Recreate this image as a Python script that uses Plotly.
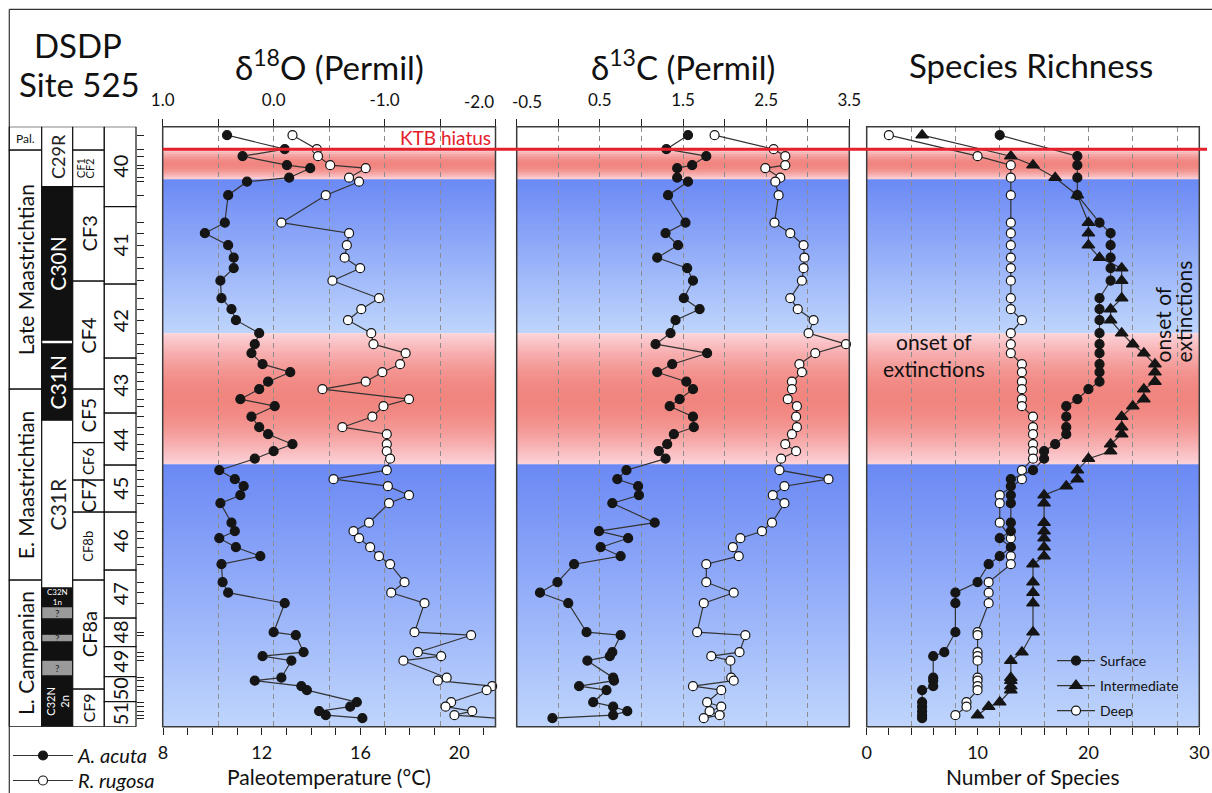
import math
import plotly.graph_objects as go

W, H = 1212, 793

# ---------------- data ----------------
# sample depth (relative units, 0 = top of section shown, 120 = base)
depth = [1.7, 4.5, 5.9, 7.7, 8.3, 10.2, 11.0, 13.7, 19.2, 21.3, 23.7, 26.2, 28.3, 30.8, 34.3,
         36.5, 38.7, 41.3, 43.5, 45.3, 47.5, 49.1, 51.0, 52.5, 54.5, 55.9, 58.0, 60.1, 61.5, 63.5,
         64.9, 66.4, 68.7, 70.5, 71.9, 73.7, 75.3, 79.2, 80.9, 82.3, 84.1, 85.9, 87.5, 91.1, 93.2,
         95.3, 101.1, 101.7, 105.1, 105.9, 106.8, 110.2, 110.8, 111.9, 112.7, 115.1, 116.0, 116.9, 117.7, 118.3]

d18o_acuta = [0.42, -0.10, 0.28, -0.12, -0.33, -0.14, 0.24, 0.41, 0.44, 0.62, 0.41, 0.36, 0.36, 0.48, 0.47,
              0.38, 0.34, 0.13, 0.17, 0.20, 0.10, -0.15, 0.05, 0.13, 0.30, -0.01, 0.20, 0.13, 0.05, -0.17,
              0.00, 0.17, 0.49, 0.35, 0.27, 0.30, 0.48, 0.38, 0.35, 0.49, 0.34, 0.12, 0.47, 0.46, 0.41,
              -0.10, 0.00, -0.20, -0.27, 0.10, -0.16, -0.07, 0.17, -0.25, -0.30, -0.75, -0.69, -0.41, -0.47, -0.80]
d18o_rugosa = [-0.17, -0.39, -0.40, -0.51, -0.83, -0.68, -0.77, -0.47, -0.07, -0.68, -0.66, -0.64, -0.78, -0.53, -0.95,
               -0.79, -0.67, -0.88, -0.90, -1.19, -1.14, -0.98, -0.83, -0.44, -1.22, -0.99, -0.89, -0.62, -1.02, -1.02,
               -1.02, -1.05, -1.02, -0.54, -1.03, -1.22, -1.04, -0.86, -0.72, -0.77, -0.87, -0.95, -1.05, -1.18, -1.06,
               -1.36, -1.27, -1.78, -1.30, -1.51, -1.17, -1.56, -1.48, -1.97, -1.92, -1.60, -1.55, -1.79, -1.63, -2.01]
d13c_acuta = [1.56, 1.30, 1.78, 1.61, 1.43, 1.43, 1.56, 1.32, 1.53, 1.29, 1.44, 1.19, 1.55, 1.62, 1.51,
              1.70, 1.41, 1.35, 1.17, 1.79, 1.37, 1.19, 1.54, 1.62, 1.46, 1.34, 1.62, 1.63, 1.39, 1.31,
              1.21, 1.29, 0.82, 0.71, 0.96, 0.97, 0.65, 1.16, 0.49, 0.84, 0.51, 0.75, 0.19, -0.01, -0.22,
              0.12, 0.34, 0.75, 0.65, 0.62, 0.35, 0.66, 0.67, 0.25, 0.58, 0.42, 0.66, 0.83, 0.66, -0.07]
d13c_rugosa = [1.88, 2.59, 2.73, 2.73, 2.49, 2.67, 2.61, 2.65, 2.60, 2.79, 2.95, 2.96, 2.95, 2.93, 2.79,
               2.88, 3.07, 3.01, 3.46, 3.09, 2.90, 2.93, 2.81, 2.81, 2.76, 2.87, 2.86, 2.87, 2.81, 2.73,
               2.86, 2.68, 2.66, 3.25, 2.72, 2.58, 2.72, 2.57, 2.45, 2.19, 2.10, 2.17, 1.78, 1.78, 2.11,
               1.75, 1.67, 2.25, 2.18, 1.84, 2.07, 2.08, 2.11, 1.62, 1.96, 1.79, 1.96, 1.82, 1.94, 1.75]

N = None
sr_surface = [12, N, 19, 19, N, 19, N, 19, 21, 22, 22, 22, 22, 22, 21,
              21, 21, 21, 21, 21, 21, 21, 21, 20, 19, 18, 18, 18, 18, 17,
              16, 16, 15, 13, 13, 13, 13, 13, 13, 12, 13, 12, 11, 10, 8,
              8, 8, N, 7, 6, N, 6, 6, 6, 5, 5, 5, 5, 5, 5]
sr_intermediate = [5, N, 13, 15, N, 17, N, 19, 20, 20, 20, 21, 23, 23, 23,
                   22, 22, 23, 24, 25, 26, 26, 26, 25, 25, 24, 23, 23, 23, 22,
                   22, 20, 19, 19, 18, 16, 16, 16, 16, 16, 16, 16, 15, 15, 15,
                   15, 15, N, 14, N, 13, 13, 13, 13, 13, 12, 11, N, 10, N]
sr_deep = [2, N, 10, 13, N, 13, N, 13, 13, 13, 13, 13, 13, 13, 13,
           13, 14, 13, 13, 13, 14, 14, 14, 14, 14, 14, 15, 15, 15, 15,
           15, 15, 14, 14, N, 12, 12, 12, N, 13, N, 13, 13, 11, 11,
           11, 10, 10, 10, 10, 10, 10, 10, 10, 10, 9, 9, N, 8, N]

ktb_depth = 4.5
bands = [(4.5, 10.5, "red"), (10.5, 41.3, "blue"), (41.3, 67.5, "red"), (67.5, 120.0, "blue")]

stage_cells = [(0, 4.7, "Pal."), (4.7, 52.5, "Late Maastrichtian"),
               (52.5, 90.7, "E. Maastrichtian"), (90.7, 120, "L. Campanian")]
chron_cells = [(0, 12.0, "C29R", "w"), (12.0, 42.7, "C30N", "k"), (42.7, 43.5, "", "w"),
               (43.5, 58.7, "C31N", "k"), (58.7, 92.3, "C31R", "w"), (92.3, 96.0, "C32N<br>1n", "k"),
               (96.0, 98.5, "?", "g"), (98.5, 101.5, "", "k"), (101.5, 103.1, "?", "g"),
               (103.1, 106.7, "", "k"), (106.7, 109.9, "?", "g"), (109.9, 120, "C32N<br>2n", "k")]
zone_cells = [(0, 4.7, ""), (4.7, 12.0, "CF1|CF2"), (12.0, 30.9, "CF3"), (30.9, 52.5, "CF4"),
              (52.5, 63.2, "CF5"), (63.2, 70.7, "CF6"), (70.7, 77.1, "CF7"), (77.1, 90.7, "CF8b"),
              (90.7, 112.5, "CF8a"), (112.5, 120, "CF9")]
core_cells = [(0, 16.0, "40"), (16.0, 31.5, "41"), (31.5, 46.3, "42"), (46.3, 57.3, "43"),
              (57.3, 67.7, "44"), (67.7, 77.1, "45"), (77.1, 88.7, "46"), (88.7, 98.3, "47"),
              (98.3, 104.0, "48"), (104.0, 110.0, "49"), (110.0, 115.0, "50"), (115.0, 120, "51")]

# tick values: labelled (major) and unlabelled (minor) positions
d18o_major = [1.0, 0.0, -1.0]
d18o_major_text = ["1.0", "0.0", "-1.0"]
d18o_minor = [0.5, -0.5, -1.5, -2.0]          # "-2.0" label is set beside its tick
d13c_major = [0.5, 1.5, 2.5, 3.5]
d13c_major_text = ["0.5", "1.5", "2.5", "3.5"]
d13c_minor = [-0.5, 0.0, 1.0, 2.0, 3.0]        # "-0.5" label is set beside its tick
temp_major = [8, 12, 16, 20]
temp_minor = [t for t in range(8, 22) if t not in temp_major]
species_major = [0, 10, 20, 30]
species_minor = [s for s in range(0, 31, 2) if s not in species_major]
species_grid = list(range(0, 31, 4))

# ---------------- helpers ----------------
FONT = "Lato, 'Open Sans', sans-serif"


def px(x):
    return x / W


def py(y):
    return 1 - y / H


P1 = (162.7, 495.5)
P2 = (516.7, 849.3)
P3 = (866.7, 1199.3)
TOP, BOT = 126.7, 726.7

BLUE_DARK = (107, 137, 245)
BLUE_LIGHT = (191, 213, 252)
RED_DARK = (241, 133, 127)
RED_LIGHT = (252, 212, 218)


def mix(c0, c1, t):
    return "rgb(%d,%d,%d)" % tuple(round(a + (b - a) * t) for a, b in zip(c0, c1))


shapes = []
annotations = []

# gradient backgrounds (each strip overlaps the next a little to avoid seams)
axis_ranges = {"x": (1.0, -2.0), "x2": (-0.5, 3.5), "x3": (0, 30)}
for d0, d1, kind in bands:
    n = max(2, int(round((d1 - d0) / 0.5)))
    for i in range(n):
        a = d0 + i * (d1 - d0) / n
        b = d0 + (i + 1) * (d1 - d0) / n
        f = (i + 0.5) / n
        if kind == "blue":
            col = mix(BLUE_DARK, BLUE_LIGHT, f)
        else:
            col = mix(RED_LIGHT, RED_DARK, math.sin(math.pi * f))
        for ax, (r0, r1) in axis_ranges.items():
            shapes.append(dict(type="rect", xref=ax, yref="y", x0=r0, x1=r1,
                               y0=a, y1=min(b + 0.45, d1), fillcolor=col,
                               line=dict(width=0), layer="below"))

# panel borders
for ax in ["x", "x2", "x3"]:
    shapes.append(dict(type="rect", xref=f"{ax} domain", yref="y domain", x0=0, x1=1, y0=0, y1=1,
                       line=dict(color="#3c3c3c", width=1.5), fillcolor="rgba(0,0,0,0)", layer="above"))

# KTB hiatus line
shapes.append(dict(type="line", xref="paper", yref="y", x0=px(162.7), x1=px(1207),
                   y0=ktb_depth, y1=ktb_depth, line=dict(color="#e4202a", width=3), layer="above"))

# figure frame (top & left)
shapes.append(dict(type="line", xref="paper", yref="paper", x0=px(9.3), x1=1, y0=py(9.3), y1=py(9.3),
                   line=dict(color="#333", width=1.2)))
shapes.append(dict(type="line", xref="paper", yref="paper", x0=px(9.3), x1=px(9.3), y0=0, y1=py(9.3),
                   line=dict(color="#333", width=1.2)))

# stratigraphic columns
COLS = {"stage": (9.3, 41.7), "chron": (41.7, 72.7), "zone": (72.7, 104.3), "core": (104.3, 136.0)}
FILL = {"w": "white", "k": "#111111", "g": "#9a9a9a"}


def cell(col, d0, d1, fill="white"):
    x0, x1 = COLS[col]
    shapes.append(dict(type="rect", xref="paper", yref="y", x0=px(x0), x1=px(x1), y0=d0, y1=d1,
                       fillcolor=fill, line=dict(color="#111", width=1.2), layer="above"))


def label(xc, d, text, size, color="#111", angle=-90):
    annotations.append(dict(xref="paper", yref="y", x=px(xc), y=d, text=text, showarrow=False,
                            textangle=angle, xanchor="center", yanchor="middle",
                            font=dict(size=size, color=color, family=FONT)))


stage_x = sum(COLS["stage"]) / 2
for d0, d1, t in stage_cells:
    cell("stage", d0, d1)
    if t == "Pal.":
        label(stage_x, (d0 + d1) / 2, t, 12, angle=0)
    else:
        label(stage_x, (d0 + d1) / 2, t, 21)

chron_x = sum(COLS["chron"]) / 2
for d0, d1, t, f in chron_cells:
    cell("chron", d0, d1, FILL[f])
    if not t:
        continue
    tc = "white" if f == "k" else "#222"
    if t == "?":
        label(chron_x, (d0 + d1) / 2, t, 10, tc, angle=0)
    elif t == "C32N<br>1n":
        label(chron_x, (d0 + d1) / 2, t, 8, tc, angle=0)
    elif t == "C32N<br>2n":
        label(chron_x, (d0 + d1) / 2, t, 11, tc)
    elif t == "C29R":
        label(chron_x, (d0 + d1) / 2, t, 18, tc)
    else:
        label(chron_x, (d0 + d1) / 2, t, 21, tc)

zone_x = sum(COLS["zone"]) / 2
zone_size = {"CF3": 20, "CF4": 20, "CF5": 19, "CF6": 15, "CF7": 19, "CF8b": 13, "CF8a": 20, "CF9": 16}
for d0, d1, t in zone_cells:
    cell("zone", d0, d1)
    if t == "CF1|CF2":
        label(zone_x - 8, (d0 + d1) / 2, "CF1", 11)
        label(zone_x + 0.5, (d0 + d1) / 2, "CF2", 11)
    elif t:
        label(zone_x, (d0 + d1) / 2, t, zone_size[t])

core_x = sum(COLS["core"]) / 2
for d0, d1, t in core_cells:
    cell("core", d0, d1)
    label(core_x, (d0 + d1) / 2, t, 20)

# ---------------- traces ----------------
LINE = dict(color="#333333", width=1.2)
INK = "#151515"
fig = go.Figure()


def iso(x, name, filled, xaxis, showlegend, legend):
    fig.add_trace(go.Scatter(
        x=x, y=depth, xaxis=xaxis, yaxis="y", mode="lines+markers", name=name,
        line=LINE, legend=legend, showlegend=showlegend, hoverinfo="skip", cliponaxis=False,
        marker=dict(symbol="circle", size=9, color=INK if filled else "white",
                    line=dict(color=INK, width=1.2))))


iso(d18o_rugosa, "<i>R. rugosa</i>", False, "x", True, "legend3")
iso(d18o_acuta, "<i>A. acuta</i>", True, "x", True, "legend")
iso(d13c_rugosa, "<i>R. rugosa</i>", False, "x2", False, "legend3")
iso(d13c_acuta, "<i>A. acuta</i>", True, "x2", False, "legend")


def sr(x, name, symbol, color, size, legend):
    fig.add_trace(go.Scatter(
        x=x, y=depth, xaxis="x3", yaxis="y", mode="lines+markers", name=name, connectgaps=True,
        line=LINE, legend=legend, hoverinfo="skip", cliponaxis=False,
        marker=dict(symbol=symbol, size=size, color=color, line=dict(color=INK, width=1.2))))


sr(sr_deep, "Deep", "circle", "white", 9, "legend5")
sr(sr_intermediate, "Intermediate", "triangle-up", INK, 11, "legend4")
sr(sr_surface, "Surface", "circle", INK, 9, "legend2")

# empty helper traces so the bottom (overlay) axes exist
fig.add_trace(go.Scatter(x=[], y=[], xaxis="x4", yaxis="y", showlegend=False, hoverinfo="skip"))
fig.add_trace(go.Scatter(x=[], y=[], xaxis="x5", yaxis="y", showlegend=False, hoverinfo="skip"))


# ---------------- text ----------------
def text(x, y, t, size, color="#111", angle=0, xanchor="center", yanchor="middle", pad=1):
    annotations.append(dict(xref="paper", yref="paper", x=px(x), y=py(y), text=t, showarrow=False,
                            textangle=angle, xanchor=xanchor, yanchor=yanchor, borderpad=pad,
                            font=dict(size=size, color=color, family=FONT)))


text(78, 67, "DSDP", 33, yanchor="bottom")
text(79, 62, "Site 525", 33, yanchor="top")
text(329, 65, "δ<sup>18</sup>O (Permil)", 33)
text(683, 65, "δ<sup>13</sup>C (Permil)", 33)
text(1031, 65, "Species Richness", 33)
text(495.5, 102, "-2.0", 17, xanchor="right")
text(510, 102, "-0.5", 17, xanchor="left")
text(493, 137.5, "KTB hiatus", 19, "#e4202a", xanchor="right")
text(934, 355, "onset of", 21, yanchor="bottom", pad=0)
text(934, 355, "extinctions", 21, yanchor="top", pad=0)
text(1175, 364, "onset of", 21, angle=-90, xanchor="right", yanchor="bottom", pad=0)
text(1169, 364, "extinctions", 21, angle=-90, xanchor="left", yanchor="bottom", pad=0)
text(329, 776, "Paleotemperature (°C)", 21)
text(1033, 776, "Number of Species", 21)

# ---------------- layout ----------------
TICK = dict(ticks="outside", ticklen=7, tickwidth=1, tickcolor="#222")
GRID = dict(showgrid=True, gridcolor="#8c8c8c", gridwidth=1, griddash="5px,4px")
BASE = dict(zeroline=False, showline=False, tickmode="array", anchor="y")


def legend_at(x, y_top, size, iw):
    return dict(x=px(x), y=py(y_top), xanchor="left", yanchor="top", bgcolor="rgba(0,0,0,0)",
                font=dict(size=size, family=FONT, color="#111"), itemwidth=iw)


fig.update_layout(
    width=W, height=H, margin=dict(l=0, r=0, t=0, b=0, pad=0, autoexpand=False),
    paper_bgcolor="white", plot_bgcolor="rgba(0,0,0,0)",
    font=dict(family=FONT, color="#111"),
    shapes=shapes, annotations=annotations,
    xaxis=dict(domain=[px(P1[0]), px(P1[1])], range=[1.0, -2.0], side="top",
               tickvals=d18o_major, ticktext=d18o_major_text, tickfont=dict(size=17),
               ticklabelstandoff=6, **BASE, **TICK, **GRID,
               minor=dict(tickmode="array", tickvals=d18o_minor, **TICK, **GRID)),
    xaxis2=dict(domain=[px(P2[0]), px(P2[1])], range=[-0.5, 3.5], side="top",
                tickvals=d13c_major, ticktext=d13c_major_text, tickfont=dict(size=17),
                ticklabelstandoff=6, **BASE, **TICK, **GRID,
                minor=dict(tickmode="array", tickvals=d13c_minor, **TICK, **GRID)),
    xaxis3=dict(domain=[px(P3[0]), px(P3[1])], range=[0, 30], side="top",
                tickvals=species_grid, showticklabels=False, ticks="", **BASE, **GRID),
    xaxis4=dict(overlaying="x", side="bottom", range=[7.985, 21.47],
                tickvals=temp_major, tickfont=dict(size=18), showgrid=False,
                ticklabelstandoff=3, **BASE, **TICK,
                minor=dict(tickmode="array", tickvals=temp_minor, showgrid=False, **TICK)),
    xaxis5=dict(overlaying="x3", side="bottom", range=[0, 30],
                tickvals=species_major, tickfont=dict(size=18), showgrid=False,
                ticklabelstandoff=3, **BASE, **TICK,
                minor=dict(tickmode="array", tickvals=species_minor, showgrid=False, **TICK)),
    yaxis=dict(domain=[py(BOT), py(TOP)], range=[120, 0], anchor="free", position=px(136.0),
               side="right", tickmode="array", tickvals=depth, showticklabels=False,
               showgrid=False, zeroline=False, showline=False, **TICK),
    legend=legend_at(8, 736, 20, 60),
    legend3=legend_at(8, 761, 20, 60),
    legend2=legend_at(1052, 645, 14, 38),
    legend4=legend_at(1052, 670, 14, 38),
    legend5=legend_at(1052, 695, 14, 38),
    showlegend=True,
)

fig.write_html("out.html")
